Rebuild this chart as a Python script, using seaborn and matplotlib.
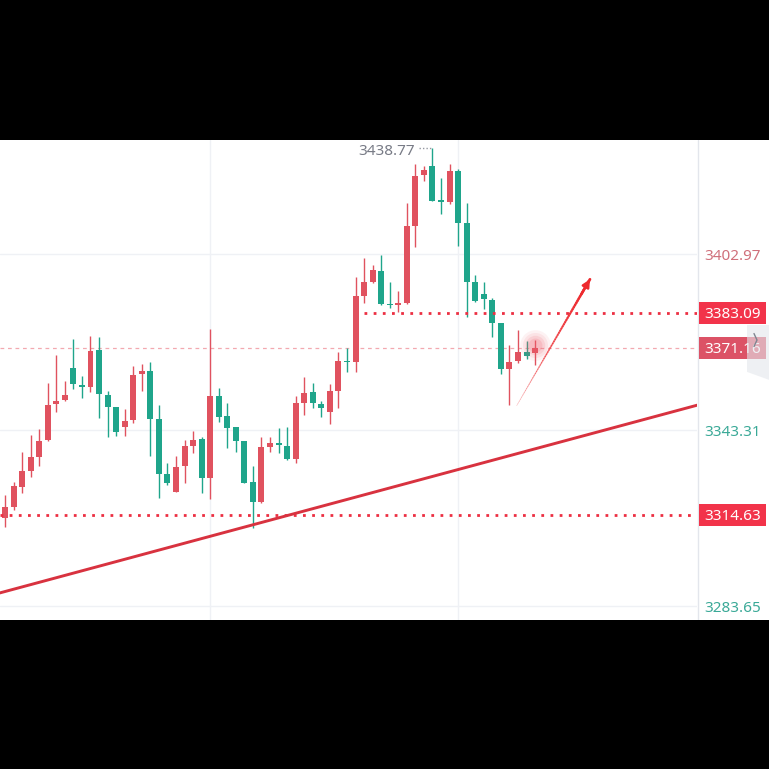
import numpy as np
import pandas as pd
import matplotlib
matplotlib.use("Agg")
import matplotlib.pyplot as plt
from matplotlib.patches import Rectangle, Polygon
from matplotlib.collections import LineCollection
import seaborn as sns

# ---- candle data (one bar per period) ----
opens = [3313.37, 3317.32, 3324.10, 3329.53, 3334.27, 3339.92, 3352.13, 3353.48, 3364.22, 3358.57,
         3357.77, 3370.43, 3355.18, 3351.00, 3344.44, 3346.70, 3362.29, 3363.42, 3346.93, 3328.28,
         3322.41, 3331.22, 3338.00, 3340.15, 3327.15, 3354.95, 3348.06, 3344.44, 3339.70, 3325.57,
         3318.79, 3337.66, 3338.79, 3337.89, 3333.37, 3352.58, 3356.08, 3352.13, 3349.53, 3356.65,
         3366.70, 3366.47, 3388.84, 3393.36, 3397.20, 3385.90, 3385.68, 3386.24, 3412.46, 3429.75,
         3432.80, 3421.16, 3420.48, 3431.21, 3413.36, 3393.36, 3389.52, 3387.38, 3379.47, 3363.88,
         3366.82, 3369.87, 3369.30]
highs = [3321.28, 3325.80, 3335.97, 3341.62, 3343.65, 3359.13, 3368.74, 3359.92, 3374.05, 3361.62,
         3375.18, 3374.95, 3356.53, 3351.00, 3350.43, 3365.01, 3365.57, 3366.25, 3351.79, 3332.01,
         3334.50, 3339.92, 3343.09, 3340.83, 3377.55, 3357.44, 3352.35, 3344.44, 3339.70, 3331.11,
         3340.83, 3340.83, 3343.88, 3344.22, 3354.84, 3361.16, 3359.13, 3353.26, 3358.79, 3369.87,
         3371.00, 3395.28, 3401.72, 3399.24, 3402.63, 3393.36, 3390.42, 3420.14, 3433.47, 3432.80,
         3438.77, 3428.62, 3433.47, 3431.67, 3420.14, 3395.85, 3393.36, 3387.95, 3379.47, 3372.13,
         3377.21, 3373.48, 3373.82]
lows = [3310.32, 3316.19, 3321.84, 3327.49, 3331.11, 3339.70, 3349.53, 3353.26, 3357.10, 3354.05,
        3356.31, 3347.27, 3341.05, 3341.28, 3341.28, 3345.80, 3356.65, 3334.50, 3320.15, 3324.67,
        3322.18, 3325.23, 3335.63, 3321.84, 3319.81, 3346.14, 3337.10, 3335.97, 3325.23, 3309.98,
        3318.45, 3335.97, 3335.40, 3333.14, 3332.01, 3348.40, 3350.66, 3347.83, 3345.35, 3350.66,
        3363.09, 3363.08, 3386.24, 3393.02, 3385.68, 3384.55, 3383.42, 3386.02, 3405.45, 3427.82,
        3420.90, 3416.53, 3419.92, 3405.68, 3381.72, 3386.58, 3384.21, 3374.73, 3362.30, 3351.79,
        3366.14, 3367.27, 3365.35]
closes = [3317.10, 3324.33, 3329.41, 3334.05, 3339.58, 3351.79, 3353.26, 3355.18, 3358.90, 3358.00,
          3370.20, 3355.52, 3351.22, 3342.75, 3346.36, 3361.96, 3363.42, 3346.93, 3328.28, 3325.23,
          3330.88, 3337.89, 3339.92, 3327.15, 3354.95, 3347.61, 3343.99, 3339.70, 3325.46, 3318.79,
          3337.44, 3338.79, 3338.23, 3333.37, 3352.35, 3355.74, 3352.58, 3350.88, 3356.53, 3366.70,
          3366.25, 3388.84, 3393.36, 3397.54, 3385.90, 3385.68, 3386.24, 3412.46, 3429.41, 3431.44,
          3421.05, 3420.71, 3431.10, 3413.59, 3393.59, 3387.03, 3387.60, 3379.70, 3363.88, 3366.48,
          3369.87, 3368.51, 3371.16]

# ---- price scale and marked levels ----
scale_ticks = [3402.97, 3343.31, 3283.65]
support_level = 3314.63
resistance_level = 3383.09
last_price = 3371.16
session_high = 3438.77
resistance_from_bar = 43
time_grid_bars = [25, 54]

# rising trend line anchors (bar index, price)
trend_bars = [0, 82]
trend_prices = [3287.77, 3351.75]

# projected move arrow (bar index, price)
arrow_bars = [60.85, 69.42]
arrow_prices = [3351.55, 3394.39]

UP = "#e0525f"
DOWN = "#1fa58b"
LEVEL_RED = "#ec2f42"

df = pd.DataFrame({"open": opens, "high": highs, "low": lows, "close": closes})
df["bar"] = np.arange(1, len(df) + 1)
df["up"] = df["close"] >= df["open"]
df["color"] = np.where(df["up"], UP, DOWN)
df["body_lo"] = df[["open", "close"]].min(axis=1)
df["body_h"] = (df["close"] - df["open"]).abs().clip(lower=0.4)

sns.set_theme(style="white")
plt.rcParams["font.family"] = ["Noto Sans", "DejaVu Sans"]

W = H = 769
fig = plt.figure(figsize=(W / 100, H / 100), dpi=100, facecolor="black")
ax = fig.add_axes([0, 149 / H, 697 / W, 480 / H])
sax = fig.add_axes([697 / W, 149 / H, 72 / W, 480 / H])

XMIN, XMAX = 0.415, 81.94
YMIN, YMAX = 3278.90, 3441.61
ax.set_xlim(XMIN, XMAX)
ax.set_ylim(YMIN, YMAX)
sax.set_xlim(0, 72)
sax.set_ylim(YMIN, YMAX)
for a in (ax, sax):
    a.set_facecolor("white")
    a.set_xticks([])
    a.set_yticks([])
    for s in a.spines.values():
        s.set_visible(False)

# grid
for v in scale_ticks:
    ax.axhline(v, color="#eff1f5", lw=1.0, zorder=0)
for b in time_grid_bars:
    ax.axvline(b, color="#eff1f5", lw=1.0, zorder=0)

# candles
ax.vlines(df["bar"], df["low"], df["high"], colors=df["color"], lw=1.0, zorder=2)
ax.bar(df["bar"], df["body_h"], bottom=df["body_lo"], width=0.70,
       color=df["color"], linewidth=0, zorder=3)

# last price line
ax.axhline(last_price, color="#f3a9b0", lw=0.9, ls=(0, (3, 3)), zorder=1)

# horizontal levels
ax.axhline(support_level, color=LEVEL_RED, lw=2.0, ls=(0, (1, 2.3)),
           dash_capstyle="butt", zorder=4)
ax.hlines(resistance_level, resistance_from_bar, XMAX, color=LEVEL_RED, lw=2.0,
          ls=(0, (1, 2.3)), capstyle="butt", zorder=4)

# trend line
sns.lineplot(x=trend_bars, y=trend_prices, ax=ax, color="#d8323f", lw=2.1,
             zorder=5, legend=False)

# glow around the live candle
for d, a in [(22, 0.08), (18, 0.10), (14, 0.14), (10, 0.18)]:
    ax.scatter([df["bar"].iloc[-1]], [last_price + 0.8], s=d ** 2, color="#f0606f",
               alpha=a, linewidths=0, zorder=6)

# tapered projection arrow
t = np.linspace(0, 1, 60)
xs = arrow_bars[0] + (arrow_bars[1] - arrow_bars[0]) * t
ys = arrow_prices[0] + (arrow_prices[1] - arrow_prices[0]) * t
pts = np.column_stack([xs, ys]).reshape(-1, 1, 2)
segs = np.concatenate([pts[:-1], pts[1:]], axis=1)
alphas = np.linspace(0.3, 1.0, len(segs))
cols = [(0.93, 0.16, 0.18, a) for a in alphas]
lc = LineCollection(segs, colors=cols, linewidths=np.linspace(0.4, 2.0, len(segs)),
                    capstyle="round", zorder=7)
ax.add_collection(lc)
ax.annotate("", xy=(arrow_bars[1], arrow_prices[1]),
            xytext=(xs[-8], ys[-8]),
            arrowprops=dict(arrowstyle="-|>", color="#ee2a2e", lw=1.8,
                            mutation_scale=11, shrinkA=0, shrinkB=0), zorder=8)

# session high marker
ax.plot([49.4, 50.85], [session_high, session_high], color="#9598a1", lw=1.0,
        ls=(0, (1, 1.5)), zorder=4)
ax.text(48.95, session_high - 0.9, f"{session_high:.2f}", ha="right", va="center",
        color="#787b86", fontsize=11, zorder=9)

# ---- price scale ----
sax.axvline(0.5, color="#e3e6ec", lw=1.0)
tick_colors = ["#d0707b", "#3aa997", "#3aa997"]
for v, c in zip(scale_ticks, tick_colors):
    sax.text(7, v - 0.9, f"{v:.2f}", ha="left", va="center", color=c, fontsize=11)

box_h = 7.5
for v, c in [(resistance_level, "#f2334a"), (last_price, "#dc5266"),
             (support_level, "#f2334a")]:
    sax.add_patch(Rectangle((2, v - box_h / 2), 66.5, box_h, facecolor=c,
                            edgecolor="none", zorder=3))
    sax.text(7, v - 0.6, f"{v:.2f}", ha="left", va="center", color="white",
             fontsize=11, zorder=4)

# collapse tab on the scale edge, with its chevron
sax.add_patch(Polygon([(50, 3378.9), (72, 3378.9), (72, 3360.3), (50, 3363.0)],
                      closed=True, facecolor="#e4e7ec", alpha=0.6, edgecolor="none",
                      zorder=5))
sax.plot([57.0, 60.0, 57.0], [3376.0, 3373.8, 3371.6], color="#7f8590", lw=1.0,
         solid_joinstyle="miter", zorder=6)

fig.savefig("out.png", dpi=100, facecolor=fig.get_facecolor())
